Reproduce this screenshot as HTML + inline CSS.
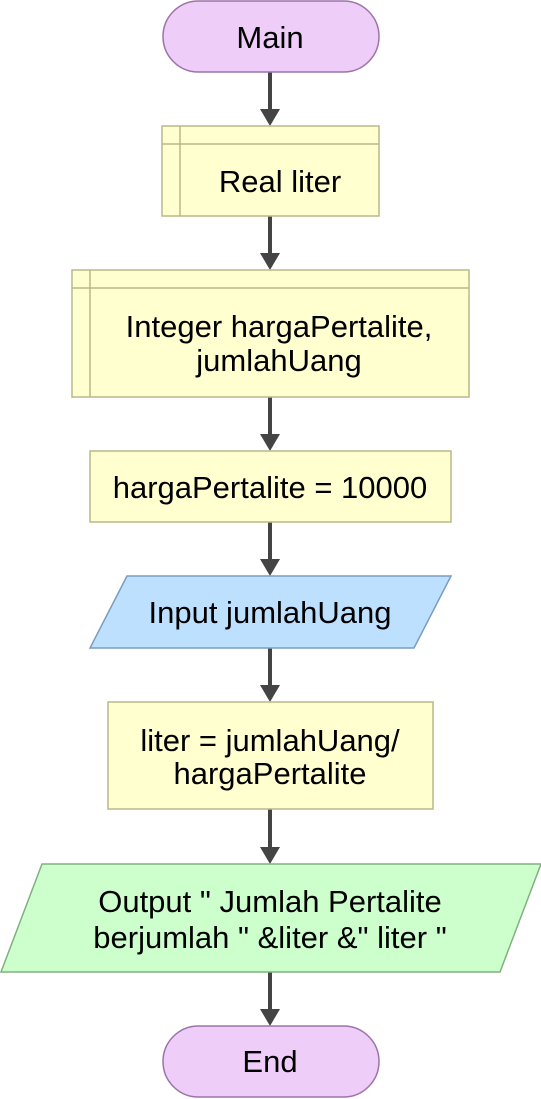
<!DOCTYPE html>
<html><head><style>body{margin:0;background:#fff}svg{display:block}text{font-family:"Liberation Sans",Arial,sans-serif;font-size:31px;fill:#000;text-anchor:middle}</style></head><body>
<svg width="541" height="1099" viewBox="0 0 541 1099" xmlns="http://www.w3.org/2000/svg">
<g fill="#444">
<rect x="268" y="72" width="4" height="38"/><path d="M260,109 L280,109 L270,126Z"/>
<rect x="268" y="216" width="4" height="38"/><path d="M260,253 L280,253 L270,270Z"/>
<rect x="268" y="397" width="4" height="38"/><path d="M260,434 L280,434 L270,451Z"/>
<rect x="268" y="522" width="4" height="38"/><path d="M260,559 L280,559 L270,576Z"/>
<rect x="268" y="648" width="4" height="38"/><path d="M260,685 L280,685 L270,702Z"/>
<rect x="268" y="809" width="4" height="38"/><path d="M260,847 L280,847 L270,864Z"/>
<rect x="268" y="972" width="4" height="38"/><path d="M260,1009 L280,1009 L270,1026Z"/>
</g>
<rect x="163" y="1" width="216" height="71" rx="35.5" fill="#eecdf9" stroke="#9c74a8" stroke-width="1.5"/>
<text x="270" y="48">Main</text>
<rect x="162" y="126" width="217" height="90" fill="#ffffcf" stroke="#b8b88a" stroke-width="1.5"/>
<path d="M180,126V216M162,144H379" stroke="#b8b88a" stroke-width="1.5"/>
<text x="280" y="192">Real liter</text>
<rect x="72" y="270" width="397" height="127" fill="#ffffcf" stroke="#b8b88a" stroke-width="1.5"/>
<path d="M90,270V397M72,288H469" stroke="#b8b88a" stroke-width="1.5"/>
<text x="279" y="337">Integer hargaPertalite,</text>
<text x="279" y="371">jumlahUang</text>
<rect x="90" y="451" width="361" height="71" fill="#ffffcf" stroke="#b8b88a" stroke-width="1.5"/>
<text x="270" y="498">hargaPertalite = 10000</text>
<path d="M127,576H451L414,648H90Z" fill="#bde0ff" stroke="#7a9cc0" stroke-width="1.5"/>
<text x="270" y="623">Input jumlahUang</text>
<rect x="108" y="702" width="325" height="107" fill="#ffffcf" stroke="#b8b88a" stroke-width="1.5"/>
<text x="270" y="751">liter = jumlahUang/</text>
<text x="270" y="784">hargaPertalite</text>
<path d="M42,864H541L500,972H1Z" fill="#ccffcc" stroke="#80b080" stroke-width="1.5"/>
<text x="270" y="912">Output " Jumlah Pertalite</text>
<text x="270" y="948">berjumlah " &amp;liter &amp;" liter "</text>
<rect x="163" y="1026" width="216" height="71" rx="35.5" fill="#eecdf9" stroke="#9c74a8" stroke-width="1.5"/>
<text x="270" y="1072">End</text>
</svg>
</body></html>
